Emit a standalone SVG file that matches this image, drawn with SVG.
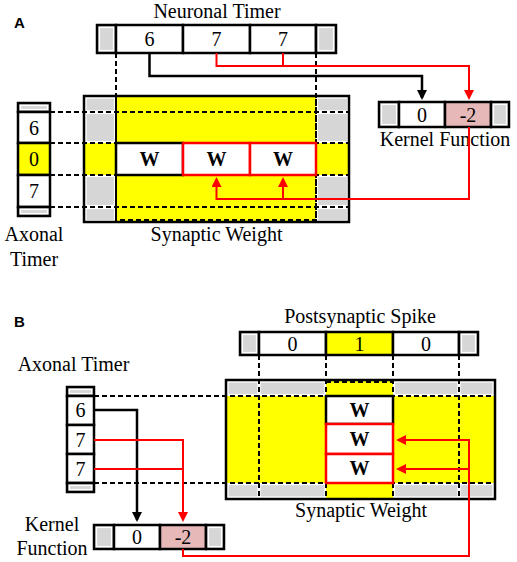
<svg xmlns="http://www.w3.org/2000/svg" width="517" height="562" viewBox="0 0 517 562">
<style>
.wc{fill:#fff;stroke:#000;stroke-width:2.5}
.gc{fill:#d6d6d6;stroke:#000;stroke-width:2.5}
.yc{fill:#ff0;stroke:#000;stroke-width:2.5}
.pc{fill:#e6b9b8;stroke:#000;stroke-width:2.5}
.gi{fill:none;stroke:#fff;stroke-width:1.2}
.gm{fill:#d6d6d6;stroke:#fff;stroke-width:1.2}
.yel{fill:#ff0}
.out{fill:none;stroke:#000;stroke-width:2.5}
.dash{fill:none;stroke:#000;stroke-width:2;stroke-dasharray:5 3}
.blk{fill:none;stroke:#000;stroke-width:2.5}
.red{fill:none;stroke:#f00;stroke-width:2}
.wk{fill:#fff;stroke:#000;stroke-width:2.5}
.wr{fill:#fff;stroke:#f00;stroke-width:2.5}
.t{font-family:"Liberation Serif","Times New Roman",serif;font-size:20px;text-anchor:middle;fill:#000}
.w{font-family:"Liberation Serif","Times New Roman",serif;font-size:20px;font-weight:bold;text-anchor:middle}
.lab{font-family:"Liberation Sans",Arial,sans-serif;font-size:15px;font-weight:bold}
</style>
<defs>
<marker id="ak" viewBox="0 0 10 10" refX="8" refY="5" markerWidth="11" markerHeight="10" markerUnits="userSpaceOnUse" orient="auto"><path d="M0,0 L10,5 L0,10 z" fill="#000"/></marker>
<marker id="ar" viewBox="0 0 10 10" refX="8" refY="5" markerWidth="11" markerHeight="10" markerUnits="userSpaceOnUse" orient="auto"><path d="M0,0 L10,5 L0,10 z" fill="#f00"/></marker>
</defs>
<rect width="517" height="562" fill="#fff"/>

<!-- Panel A -->
<text class="lab" x="14" y="28">A</text>

<g id="synaptic-weight-a">
<rect class="yel" x="116" y="96" width="200" height="126"/>
<rect class="yel" x="84" y="143" width="265" height="32"/>
<rect class="gm" x="86" y="98" width="28.5" height="13"/>
<rect class="gm" x="86" y="113.5" width="28.5" height="28"/>
<rect class="gm" x="86" y="176.5" width="28.5" height="29"/>
<rect class="gm" x="86" y="208.5" width="28.5" height="12"/>
<rect class="gm" x="317.5" y="98" width="30" height="13"/>
<rect class="gm" x="317.5" y="113.5" width="30" height="28"/>
<rect class="gm" x="317.5" y="176.5" width="30" height="29"/>
<rect class="gm" x="317.5" y="208.5" width="30" height="12"/>
<path class="dash" d="M116,96 V220 H316 V96"/>
<text class="t" x="216.5" y="241">Synaptic Weight</text>
</g>

<g id="axonal-timer-a">
<rect class="gc" x="18" y="103" width="32" height="9"/>
<rect class="gi" x="20.5" y="105.5" width="27" height="4"/>
<rect class="wc" x="18" y="112" width="32" height="31"/>
<rect class="yc" x="18" y="143" width="32" height="32"/>
<rect class="wc" x="18" y="175" width="32" height="32"/>
<rect class="gc" x="18" y="207" width="32" height="9"/>
<rect class="gi" x="20.5" y="209.5" width="27" height="4"/>
<text class="t" x="34" y="134.5">6</text>
<text class="t" x="34" y="166">0</text>
<text class="t" x="34" y="198">7</text>
<text class="t" x="34" y="241">Axonal</text>
<text class="t" x="34" y="266">Timer</text>
</g>

<g id="neuronal-timer-a">
<text class="t" x="217" y="18">Neuronal Timer</text>
<rect class="gc" x="97" y="25" width="19" height="28"/>
<rect class="gi" x="99.5" y="27.5" width="14" height="23"/>
<rect class="wc" x="116" y="25" width="67" height="28"/>
<rect class="wc" x="183" y="25" width="67" height="28"/>
<rect class="wc" x="250" y="25" width="66" height="28"/>
<rect class="gc" x="316" y="25" width="20" height="28"/>
<rect class="gi" x="318.5" y="27.5" width="15" height="23"/>
<text class="t" x="149.5" y="46">6</text>
<text class="t" x="216.5" y="46">7</text>
<text class="t" x="283" y="46">7</text>
</g>

<g id="kernel-function-a">
<rect class="gc" x="379" y="102" width="20" height="25"/>
<rect class="gi" x="381.5" y="104.5" width="15" height="20"/>
<rect class="wc" x="399" y="102" width="46" height="25"/>
<rect class="pc" x="445" y="102" width="46" height="25"/>
<rect class="gc" x="491" y="102" width="18" height="25"/>
<rect class="gi" x="493.5" y="104.5" width="13" height="20"/>
<text class="t" x="422" y="121.5">0</text>
<text class="t" x="468" y="121.5">-2</text>
<text class="t" x="445" y="146">Kernel Function</text>
</g>

<g id="guides-a">
<path class="dash" d="M50,112 H349 M50,143 H349 M50,175 H349 M50,207 H349"/>
<path class="dash" d="M116,53 V222 M316,53 V222"/>
</g>

<g id="weights-a">
<rect class="wk" x="116" y="143" width="67" height="32"/>
<rect class="wr" x="183" y="143" width="67" height="32"/>
<rect class="wr" x="250" y="143" width="66" height="32"/>
<text class="w" x="149.5" y="166">W</text>
<text class="w" x="216.5" y="166">W</text>
<text class="w" x="283" y="166">W</text>
<rect class="out" x="84" y="96" width="265" height="126"/>
</g>

<!-- Panel B -->
<text class="lab" x="14" y="327">B</text>

<g id="synaptic-weight-b">
<rect class="yel" x="226" y="396" width="269" height="87"/>
<rect class="yel" x="326" y="380" width="67" height="119"/>
<rect class="gm" x="228" y="382" width="30" height="12.5"/>
<rect class="gm" x="260" y="382" width="65" height="12.5"/>
<rect class="gm" x="394.5" y="382" width="63.5" height="12.5"/>
<rect class="gm" x="460" y="382" width="33" height="12.5"/>
<rect class="gm" x="228" y="484.5" width="30" height="12.5"/>
<rect class="gm" x="260" y="484.5" width="65" height="12.5"/>
<rect class="gm" x="394.5" y="484.5" width="63.5" height="12.5"/>
<rect class="gm" x="460" y="484.5" width="33" height="12.5"/>
<path class="dash" d="M226,396 V483 M495,396 V483 M326,382 H393"/>
<text class="t" x="361" y="517">Synaptic Weight</text>
</g>

<g id="axonal-timer-b">
<text class="t" x="73.5" y="371">Axonal Timer</text>
<rect class="gc" x="67" y="387" width="27" height="9"/>
<rect class="gi" x="69.5" y="389.5" width="22" height="4"/>
<rect class="wc" x="67" y="396" width="27" height="29"/>
<rect class="wc" x="67" y="425" width="27" height="29"/>
<rect class="wc" x="67" y="454" width="27" height="29"/>
<rect class="gc" x="67" y="483" width="27" height="9"/>
<rect class="gi" x="69.5" y="485.5" width="22" height="4"/>
<text class="t" x="80.5" y="417">6</text>
<text class="t" x="80.5" y="446.5">7</text>
<text class="t" x="80.5" y="475.5">7</text>
</g>

<g id="postsynaptic-spike-b">
<text class="t" x="360" y="323">Postsynaptic Spike</text>
<rect class="gc" x="240" y="332" width="19" height="23"/>
<rect class="gi" x="242.5" y="334.5" width="14" height="18"/>
<rect class="wc" x="259" y="332" width="67" height="23"/>
<rect class="yc" x="326" y="332" width="67" height="23"/>
<rect class="wc" x="393" y="332" width="66" height="23"/>
<rect class="gc" x="459" y="332" width="19" height="23"/>
<rect class="gi" x="461.5" y="334.5" width="14" height="18"/>
<text class="t" x="292.5" y="350.5">0</text>
<text class="t" x="359.5" y="350.5">1</text>
<text class="t" x="426" y="350.5">0</text>
</g>

<g id="kernel-function-b">
<rect class="gc" x="94" y="525" width="20" height="24"/>
<rect class="gi" x="96.5" y="527.5" width="15" height="19"/>
<rect class="wc" x="114" y="525" width="46" height="24"/>
<rect class="pc" x="160" y="525" width="46" height="24"/>
<rect class="gc" x="206" y="525" width="18" height="24"/>
<rect class="gi" x="208.5" y="527.5" width="13" height="19"/>
<text class="t" x="137" y="544">0</text>
<text class="t" x="183" y="544">-2</text>
<text class="t" x="52" y="531">Kernel</text>
<text class="t" x="52" y="555">Function</text>
</g>

<g id="guides-b">
<path class="dash" d="M94,396 H495 M94,483 H495"/>
<path class="dash" d="M259,355 V499 M326,355 V499 M393,355 V499 M459,355 V499"/>
</g>

<g id="weights-b">
<rect class="wk" x="326" y="396" width="67" height="28"/>
<rect class="wr" x="326" y="424" width="67" height="30"/>
<rect class="wr" x="326" y="454" width="67" height="29"/>
<text class="w" x="359.5" y="417">W</text>
<text class="w" x="359.5" y="446">W</text>
<text class="w" x="359.5" y="475">W</text>
<rect class="out" x="226" y="380" width="269" height="119"/>
</g>

<g id="connectors">
<path class="blk" d="M149.5,53 V76 H422 V98" marker-end="url(#ak)"/>
<path class="red" d="M216.5,53 V66 H469 V98" marker-end="url(#ar)"/>
<path class="red" d="M283,53 V66"/>
<path class="red" d="M469,127 V199 H216.5 V179" marker-end="url(#ar)"/>
<path class="red" d="M283,199 V179" marker-end="url(#ar)"/>
<path class="blk" d="M94,410 H137 V520" marker-end="url(#ak)"/>
<path class="red" d="M94,440 H183 V520" marker-end="url(#ar)"/>
<path class="red" d="M94,469 H183"/>
<path class="red" d="M183,549 V556 H469 V440 H398" marker-end="url(#ar)"/>
<path class="red" d="M469,469 H398" marker-end="url(#ar)"/>
</g>
</svg>
